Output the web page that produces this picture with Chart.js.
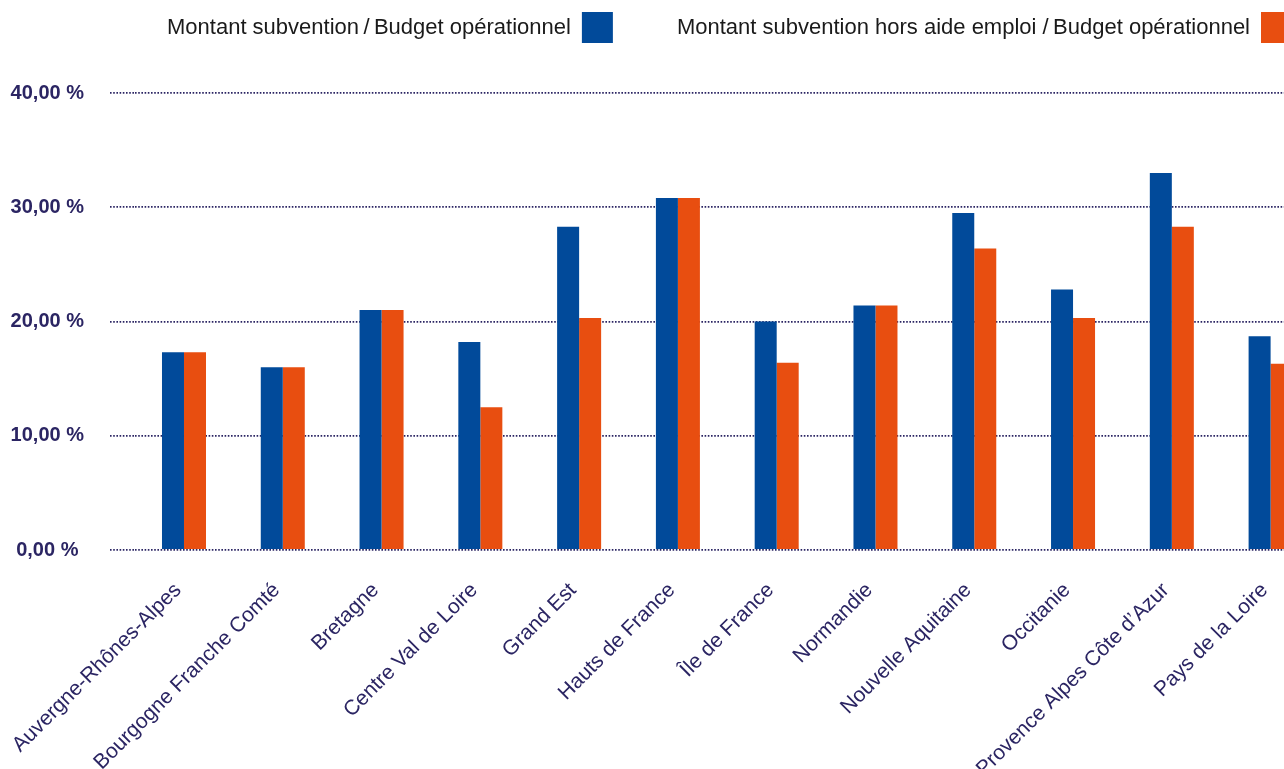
<!DOCTYPE html>
<html lang="fr">
<head>
<meta charset="utf-8">
<title>Subventions / budget opérationnel par région</title>
<script src="https://cdn.jsdelivr.net/npm/chart.js@4.4.1/dist/chart.umd.min.js"></script>
<style>
  html, body { margin: 0; padding: 0; background: #fff; overflow: hidden; }
  #cadre { width: 1320px; height: 769px; }
</style>
</head>
<body>
<div id="cadre"><canvas id="graphique"></canvas></div>
<script>
// données par région
const regions = [
  "Auvergne-Rhônes-Alpes", "Bourgogne Franche Comté", "Bretagne", "Centre Val de Loire",
  "Grand Est", "Hauts de France", "Île de France", "Normandie",
  "Nouvelle Aquitaine", "Occitanie", "Provence Alpes Côte d’Azur", "Pays de la Loire"
];
const tauxSubvention     = [17.3, 16.0, 21.0, 18.2, 28.3, 30.8, 20.0, 21.4, 29.5, 22.8, 33.0, 18.7];
const tauxHorsAideEmploi = [17.3, 16.0, 21.0, 12.5, 20.3, 30.8, 16.4, 21.4, 26.4, 20.3, 28.3, 16.3];
const graduations = [0, 10, 20, 30, 40];

const bleu = '#014a9a';
const orange = '#e84e10';
const marine = '#2b2563';

Chart.defaults.font.family = '"Liberation Sans", Arial, sans-serif';

// décale la légende (texte puis carré) vers le haut et la droite
const decalageLegende = {
  id: 'decalageLegende',
  afterLayout(chart) {
    const lg = chart.legend;
    lg.left += 36; lg.right += 36;
    lg.top -= 40; lg.bottom -= 40;
  }
};

new Chart(document.getElementById('graphique'), {
  type: 'bar',
  data: {
    labels: regions,
    datasets: [
      {
        label: 'Montant subvention\u2009/\u2009Budget opérationnel',
        data: tauxSubvention,
        backgroundColor: bleu,
        categoryPercentage: 0.4455,
        barPercentage: 1
      },
      {
        label: 'Montant subvention hors aide emploi /\u2009Budget opérationnel',
        data: tauxHorsAideEmploi,
        backgroundColor: orange,
        categoryPercentage: 0.4455,
        barPercentage: 1
      }
    ]
  },
  options: {
    responsive: true,
    maintainAspectRatio: false,
    animation: false,
    layout: { padding: { top: -12, left: 0, right: 0, bottom: 0 } },
    plugins: {
      tooltip: { enabled: false },
      legend: {
        position: 'top',
        align: 'start',
        rtl: true,
        reverse: true,
        labels: {
          boxWidth: 31,
          boxHeight: 31,
          padding: 64,
          color: '#1a1a1a',
          font: { size: 22 }
        }
      }
    },
    scales: {
      x: {
        // hauteur fixe ; les étiquettes inclinées débordent sous l'axe y
        afterFit: s => { s.height = 219; s.paddingLeft = 0; s.paddingRight = 0; },
        grid: { display: false },
        border: { display: false },
        ticks: {
          autoSkip: false,
          maxRotation: 45,
          minRotation: 45,
          padding: 20,
          labelOffset: -6,
          color: marine,
          font: { size: 21 }
        }
      },
      y: {
        min: 0,
        max: 40,
        z: 1,
        afterBuildTicks: s => { s.ticks = graduations.map(v => ({ value: v })); },
        afterFit: s => { s.width = 134.6; },
        border: { display: false, dash: [1.6, 1.6] },
        grid: {
          color: marine,
          lineWidth: 1.8,
          tickLength: 24.6,
          tickBorderDash: [1.6, 1.6]
        },
        ticks: {
          padding: 26,
          crossAlign: 'center',
          color: marine,
          font: { size: 20, weight: 'bold' },
          callback: v => v.toFixed(2).replace('.', ',') + ' %'
        }
      }
    }
  },
  plugins: [decalageLegende]
});
</script>
</body>
</html>
